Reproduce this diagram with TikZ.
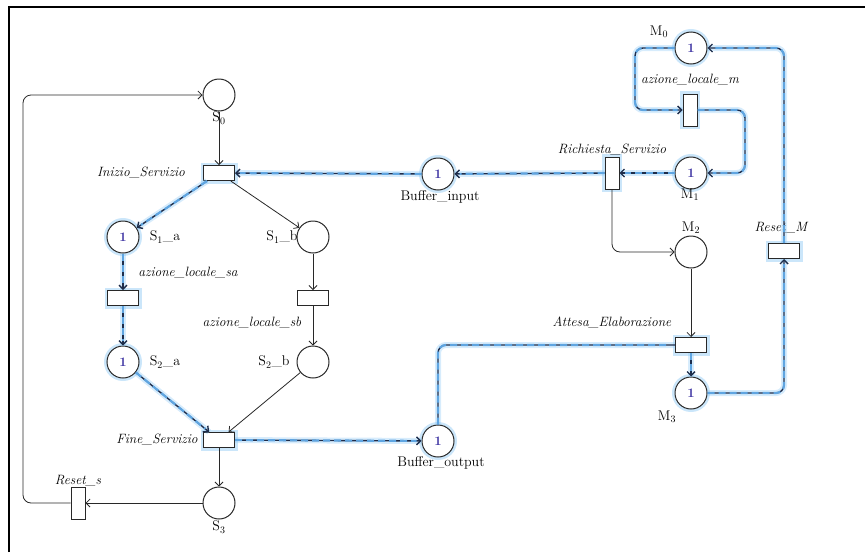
\documentclass[tikz,border=0pt]{standalone}
\usetikzlibrary{arrows.meta}
\definecolor{hlblue}{RGB}{95,165,225}
\definecolor{glow}{RGB}{140,200,245}
\definecolor{tok}{RGB}{55,45,160}
\definecolor{ln}{RGB}{40,40,40}
\definecolor{hldark}{RGB}{30,45,75}
\tikzset{
  tip/.style={-{Straight Barb[length=4pt,width=8pt]}},
  place/.style={circle, draw=ln, line width=1pt, fill=white, minimum size=32pt, inner sep=0pt},
  htrans/.style={rectangle, draw=ln, line width=1pt, fill=white, minimum width=31pt, minimum height=15pt, inner sep=0pt},
  vtrans/.style={rectangle, draw=ln, line width=1pt, fill=white, minimum width=14pt, minimum height=32pt, inner sep=0pt},
  glowy/.style={preaction={draw=glow, line width=6pt, opacity=0.45}},
  tokplace/.style={place, glowy, text=tok, font=\fontsize{13}{15}\selectfont\bfseries},
  arc/.style={draw=ln, line width=0.8pt, tip},
  hl/.style={draw=hldark, line width=1.4pt,
    preaction={draw=glow, line width=6pt, opacity=0.35, arrows=-},
    postaction={draw=hlblue, line width=2.2pt, dash pattern=on 7pt off 4pt, arrows=-, shorten >=5pt}},
  lab/.style={font=\fontsize{14}{16}\selectfont, inner sep=0pt},
  ilab/.style={font=\fontsize{13.5}{15}\selectfont\itshape, inner sep=0pt},
  frame/.style={draw=black, line width=1.3pt}
}
\begin{document}
\begin{tikzpicture}[x=1pt, y=-1pt]
\useasboundingbox (0,0) rectangle (865,552);
\draw[frame] (9,552) -- (9,7) -- (865,7);

% places and transitions (left part)
\node[place] (S0) at (219,95) {};
\node[htrans, glowy] (IS) at (219,173) {};
\node[tokplace] (S1a) at (123,237) {1};
\node[place] (S1b) at (313,237) {};
\node[htrans, glowy] (ASA) at (123,298) {};
\node[htrans] (ASB) at (313,298) {};
\node[tokplace] (S2a) at (123,362) {1};
\node[place] (S2b) at (313,362) {};
\node[htrans, glowy] (FS) at (219,440) {};
\node[place] (S3) at (219,503) {};
\node[vtrans] (RS) at (78,503) {};
\node[tokplace] (BI) at (438,174) {1};
\node[tokplace] (BO) at (438,441) {1};

% right part
\node[tokplace] (M0) at (691,48) {1};
\node[vtrans, glowy] (AM) at (690,110) {};
\node[tokplace] (M1) at (691,173) {1};
\node[vtrans, glowy] (RQ) at (612,173) {};
\node[place] (M2) at (691,252) {};
\node[htrans, glowy] (RM) at (784,251) {};
\node[htrans, glowy] (AE) at (691,345) {};
\node[tokplace] (M3) at (691,393) {1};

% labels
\node[lab] (lS0) at (219,118) {S$_0$};
\node[ilab] (lIS) at (141,173) {Inizio\_Servizio};
\node[lab] (lS1a) at (165,237) {S$_1$\_a};
\node[lab] (lS1b) at (282,237) {S$_1$\_b};
\node[ilab] (lASA) at (188,273) {azione\_locale\_sa};
\node[ilab] (lASB) at (252,323) {azione\_locale\_sb};
\node[lab] (lS2a) at (165,362) {S$_2$\_a};
\node[lab] (lS2b) at (274,362) {S$_2$\_b};
\node[ilab] (lFS) at (157,440) {Fine\_Servizio};
\node[lab] (lS3) at (219,527) {S$_3$};
\node[ilab] (lRS) at (78,481) {Reset\_s};
\node[lab] (lBI) at (440,197) {Buffer\_input};
\node[lab] (lBO) at (441,463) {Buffer\_output};
\node[lab] (lM0) at (659,32) {M$_0$};
\node[ilab] (lAM) at (690,80) {azione\_locale\_m};
\node[ilab] (lRQ) at (612,150) {Richiesta\_Servizio};
\node[lab] (lM1) at (690,195) {M$_1$};
\node[lab] (lM2) at (691,228) {M$_2$};
\node[ilab] (lRM) at (781,228) {Reset\_M};
\node[ilab] (lAE) at (612,323) {Attesa\_Elaborazione};
\node[lab] (lM3) at (667,417) {M$_3$};

% plain arcs
\draw[arc] (S0) -- (IS);
\draw[arc] (IS) -- (S1b);
\draw[arc] (S1b) -- (ASB);
\draw[arc] (ASB) -- (S2b);
\draw[arc] (S2b) -- (FS);
\draw[arc] (FS) -- (S3);
\draw[arc] (S3) -- (RS);
\draw[arc, rounded corners=8pt] (RS.west) -- (23,503) |- (S0.west);
\draw[arc, rounded corners=8pt] (RQ.south) |- (M2.west);
\draw[arc] (M2) -- (AE);

% highlighted arcs
\draw[hl, tip] (BI) -- (IS);
\draw[hl, tip] (IS) -- (S1a);
\draw[hl, tip] (S1a) -- (ASA);
\draw[hl, tip] (ASA) -- (S2a);
\draw[hl, tip] (S2a) -- (FS);
\draw[hl, tip] (FS) -- (BO);
\draw[hl, rounded corners=8pt] (BO.north) |- (AE.west);
\draw[hl, tip] (AE) -- (M3);
\draw[hl, tip, rounded corners=8pt] (M3.east) -| (RM.south);
\draw[hl, tip, rounded corners=8pt] (RM.north) |- (M0.east);
\draw[hl, tip, rounded corners=8pt] (M0.west) -- (635,48) |- (AM.west);
\draw[hl, tip, rounded corners=8pt] (AM.east) -- (745,110) |- (M1.east);
\draw[hl, tip] (M1) -- (RQ);
\draw[hl, tip] (RQ) -- (BI);
\end{tikzpicture}
\end{document}
